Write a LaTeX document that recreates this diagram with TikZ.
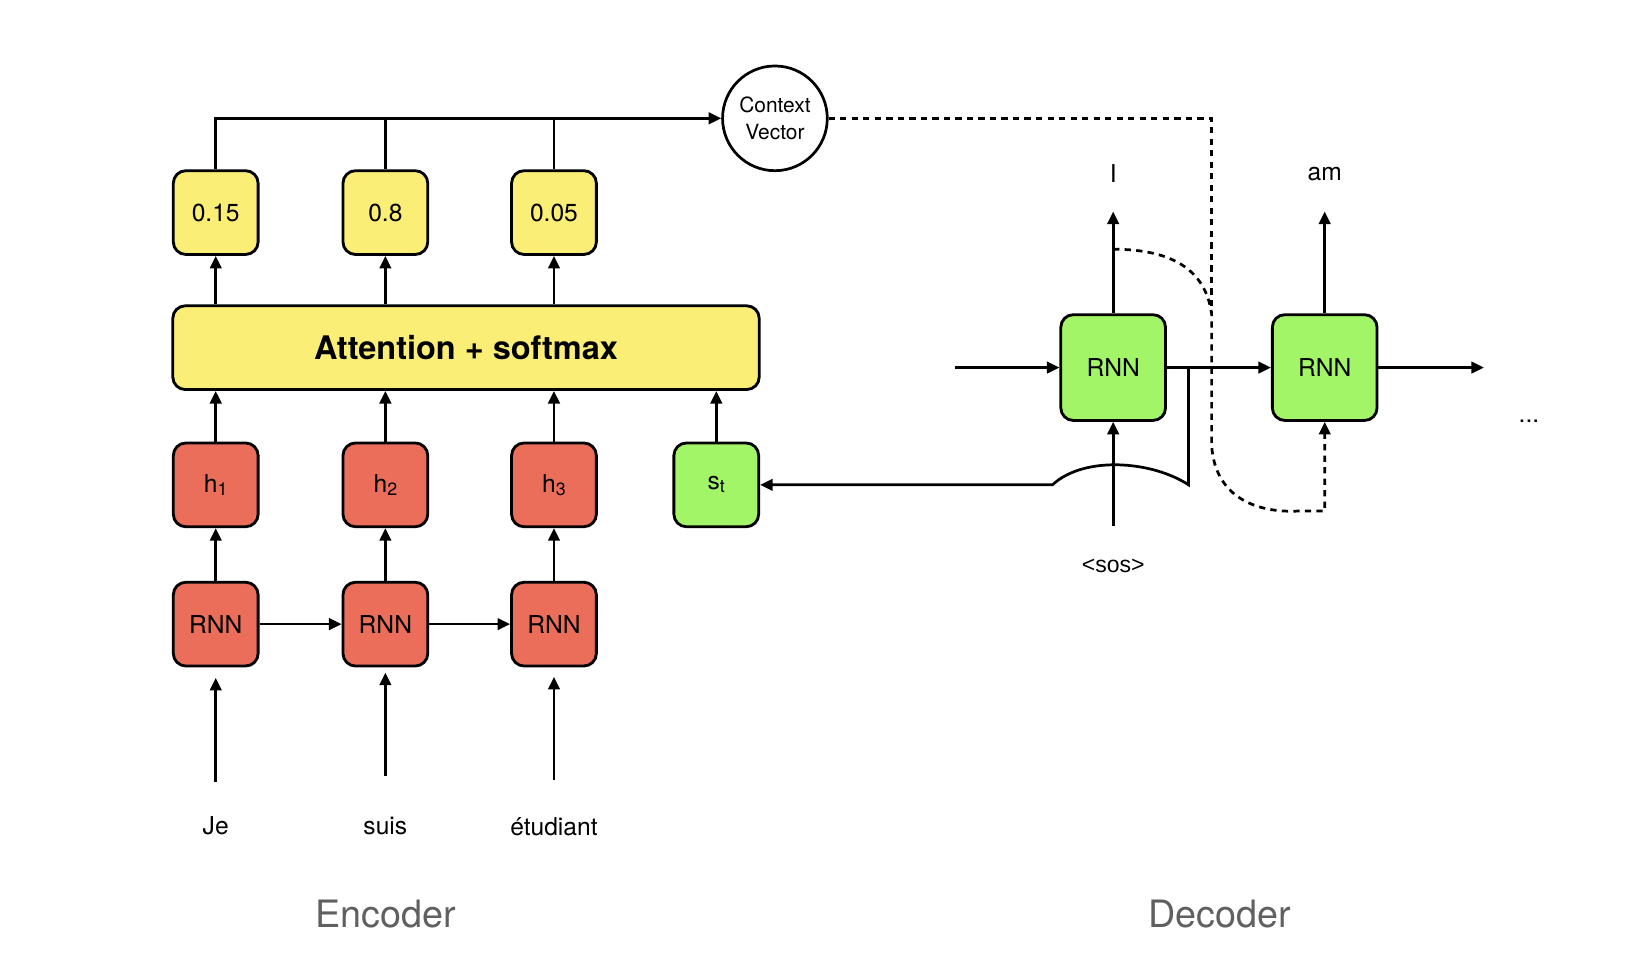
\documentclass[tikz,border=0pt]{standalone}
\usepackage{fontspec}
\setmainfont{TeX Gyre Heros}
\newfontfamily\altsans{Liberation Sans}
\usetikzlibrary{arrows.meta}
\definecolor{attyellow}{RGB}{250,238,118}
\definecolor{encred}{RGB}{234,110,90}
\definecolor{decgreen}{RGB}{163,245,104}
\definecolor{labgray}{RGB}{96,96,96}
\newcommand{\sbs}[1]{\raisebox{-3pt}{\fontsize{17}{17}\selectfont #1}}
\begin{document}
\begin{tikzpicture}[x=1pt,y=-1pt,
  box/.style={draw=black, line width=2.7pt, rounded corners=12pt, minimum width=81pt, minimum height=80pt, font=\fontsize{23.5}{28}\selectfont, inner sep=0pt},
  ybox/.style={box, fill=attyellow},
  rbox/.style={box, fill=encred},
  gbox/.style={box, fill=decgreen},
  dbox/.style={box, fill=decgreen, minimum width=100pt, minimum height=101pt},
  conn/.style={line width=2.6pt, -{Triangle[length=12pt,width=11pt]}},
  plainline/.style={line width=2.6pt},
  dline/.style={line width=2.6pt, dash pattern=on 6pt off 5pt},
  word/.style={font=\fontsize{23.5}{28}\selectfont, inner sep=0pt},
  bigword/.style={font=\fontsize{36}{40}\selectfont, text=labgray, inner sep=0pt},
]
\useasboundingbox (0,0) rectangle (1568,921);

% attention weights
\node[ybox] (w1) at (206,203) {0.15};
\node[ybox] (w2) at (368,203) {0.8};
\node[ybox] (w3) at (529,203) {0.05};

% attention block
\node[ybox, minimum width=560pt, minimum height=80pt, font=\bfseries\fontsize{31}{36}\selectfont] (att) at (445,332) {Attention + softmax};

% hidden states
\node[rbox] (h1) at (206,463) {h\sbs{1}};
\node[rbox] (h2) at (368,463) {h\sbs{2}};
\node[rbox] (h3) at (529,463) {h\sbs{3}};
\node[gbox] (st) at (684,463) {s\sbs{t}};

% encoder RNNs
\node[rbox] (r1) at (206,596) {RNN};
\node[rbox] (r2) at (368,596) {RNN};
\node[rbox] (r3) at (529,596) {RNN};

% inputs
\coordinate (in1) at (206,747);
\coordinate (in2) at (368,741);
\coordinate (in3) at (529,745);
\node[word] (lje) at (206,789) {Je};
\node[word] (lsuis) at (368,789) {suis};
\node[word] (let) at (529,789) {étudiant};

\draw[conn, shorten >=10pt] (in1) -- (r1.south);
\draw[conn, shorten >=5pt] (in2) -- (r2.south);
\draw[conn, shorten >=9pt] (in3) -- (r3.south);

\draw[conn] (r1) -- (r2);
\draw[conn] (r2) -- (r3);

\draw[conn] (r1) -- (h1);
\draw[conn] (r2) -- (h2);
\draw[conn] (r3) -- (h3);

\draw[conn] (h1.north) -- (h1.north |- att.south);
\draw[conn] (h2.north) -- (h2.north |- att.south);
\draw[conn] (h3.north) -- (h3.north |- att.south);
\draw[conn] (st.north) -- (st.north |- att.south);

\draw[conn] (w1.south |- att.north) -- (w1.south);
\draw[conn] (w2.south |- att.north) -- (w2.south);
\draw[conn] (w3.south |- att.north) -- (w3.south);

% context vector
\node[circle, draw, line width=2.6pt, minimum size=100pt, align=center, inner sep=0pt,
      font=\fontsize{20}{25}\selectfont] (cv) at (740,113) {Context\\Vector};
\draw[conn] (w1.north) |- (cv.west);
\draw[plainline] (w2.north) -- (w2.north |- cv.west);
\draw[plainline] (w3.north) -- (w3.north |- cv.west);

\coordinate (dtop) at (1157,113);
\draw[dline] (cv.east) -- (dtop) -- (1157,300);

% decoder
\node[dbox] (d1) at (1063,351) {RNN};
\node[dbox] (d2) at (1265,351) {RNN};
\coordinate (din) at (912,351);
\coordinate (dout) at (1417,351);
\draw[conn] (din) -- (d1);
\draw[conn] (d1) -- (d2);
\draw[conn] (d2) -- (dout);

\coordinate (o1) at (1063,202);
\coordinate (o2) at (1265,202);
\node[word] (lI) at (1063,166) {I};
\node[word] (lam) at (1265,166) {am};
\draw[conn] (d1) -- (o1);
\draw[conn] (d2) -- (o2);

\coordinate (sos) at (1063,502);
\node[word, font=\altsans\fontsize{22}{26}\selectfont] (lsos) at (1063,540) {<sos>};
\draw[conn] (sos) -- (d1.south);

% feedback to s_t
\coordinate (fb) at (1135,351);
\draw[conn] (fb) -- (1135,463) .. controls (1100,440) and (1035,435) .. (1005,463) -- (st.east);

% dashed: previous output into next step
\coordinate (c1) at (1063,238);
\draw[dline, -{Triangle[length=12pt,width=11pt]}] (c1) .. controls (1125,238) and (1152,262) .. (1157,300)
  -- (1157,425) .. controls (1160,475) and (1200,490) .. (1240,488) -- (1265,488) -- (d2.south);

\node[word] (dots) at (1460,402) {...};

\node[bigword] (enc) at (368,873) {Encoder};
\node[bigword] (dec) at (1165,873) {Decoder};
\end{tikzpicture}
\end{document}
